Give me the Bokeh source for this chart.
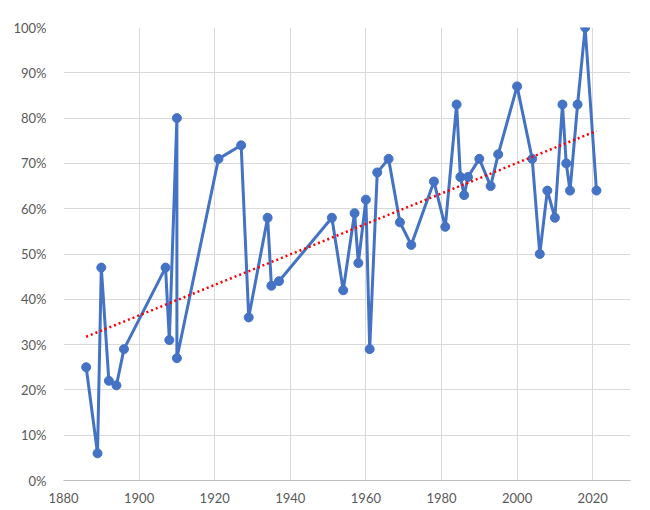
import numpy as np
from bokeh.plotting import figure
from bokeh.models import Range1d, FixedTicker, PrintfTickFormatter, ColumnDataSource
from bokeh.embed import file_html
from bokeh.resources import INLINE

years = [1886, 1889, 1890, 1892, 1894, 1896, 1907, 1908, 1910, 1910,
         1921, 1927, 1929, 1934, 1935, 1937, 1951, 1954, 1957, 1958,
         1960, 1961, 1963, 1966, 1969, 1972, 1978, 1981, 1984, 1985,
         1986, 1987, 1990, 1993, 1995, 2000, 2004, 2006, 2008, 2010,
         2012, 2013, 2014, 2016, 2018, 2021]
values = [25, 6, 47, 22, 21, 29, 47, 31, 80, 27,
          71, 74, 36, 58, 43, 44, 58, 42, 59, 48,
          62, 29, 68, 71, 57, 52, 66, 56, 83, 67,
          63, 67, 71, 65, 72, 87, 71, 50, 64, 58,
          83, 70, 64, 83, 100, 64]
x_ticks = [1880, 1900, 1920, 1940, 1960, 1980, 2000, 2020]
y_ticks = [0, 10, 20, 30, 40, 50, 60, 70, 80, 90, 100]

p = figure(frame_width=567, frame_height=453, output_backend="svg", toolbar_location=None,
           x_range=Range1d(1880, 2030), y_range=Range1d(0, 100),
           min_border_left=63, min_border_right=12, min_border_top=27, min_border_bottom=22)
p.outline_line_color = None
p.background_fill_color = "white"
p.border_fill_color = "white"

for g in (p.xgrid, p.ygrid):
    g.grid_line_color = "#d9d9d9"
    g.grid_line_width = 1
p.xgrid.ticker = FixedTicker(ticks=x_ticks)
p.ygrid.ticker = FixedTicker(ticks=y_ticks)

p.xaxis.ticker = FixedTicker(ticks=x_ticks)
p.yaxis.ticker = FixedTicker(ticks=y_ticks)
p.yaxis.formatter = PrintfTickFormatter(format="%d%%")
for ax in (p.xaxis, p.yaxis):
    ax.major_tick_line_color = None
    ax.minor_tick_line_color = None
    ax.major_label_text_font = "Lato"
    ax.major_label_text_font_size = "13px"
    ax.major_label_text_color = "#595959"
p.yaxis.axis_line_color = None
p.xaxis.axis_line_color = "#bfbfbf"
p.yaxis.major_label_standoff = 11
p.xaxis.major_label_standoff = 6

src = ColumnDataSource(dict(x=years, y=values))
p.line("x", "y", source=src, line_color="#4472C4", line_width=3)
p.scatter("x", "y", source=src, size=9, fill_color="#4472C4", line_color="#4472C4")

coef = np.polyfit(np.array(years, dtype=float), np.array(values, dtype=float), 1)
tx = [min(years), max(years)]
ty = [coef[0] * t + coef[1] for t in tx]
p.line(tx, ty, line_color="#ff0000", line_width=2.5, line_dash="2 3")

open("out.html", "w").write(file_html(p, INLINE))
